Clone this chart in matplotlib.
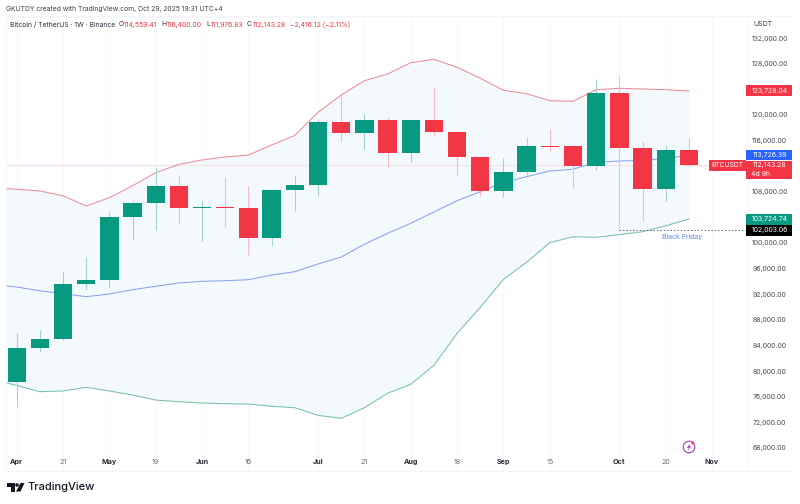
import matplotlib
matplotlib.use("Agg")
import matplotlib.pyplot as plt
from matplotlib.lines import Line2D
from matplotlib.patches import Rectangle, Circle, Polygon

plt.rcParams['font.family'] = ['Inter', 'DejaVu Sans']

opens  = [78350, 83560, 85010, 93600, 94180, 104010, 106290, 108900, 105500, 105620,
          105510, 100830, 108270, 109050, 118930, 117170, 119250, 114100, 119150, 117280,
          113380, 108120, 111040, 115140, 115090, 112020, 123370, 114830, 108480, 114559]
highs  = [86000, 86420, 95630, 97810, 104840, 106510, 111860, 110610, 106660, 110350,
          108900, 108380, 110460, 119360, 122990, 120140, 119720, 119300, 124350, 117440,
          113530, 113220, 116590, 117800, 115190, 125600, 126070, 115920, 115340, 116400]
lows   = [74450, 83030, 84900, 92660, 93180, 100620, 101980, 103010, 100310, 102540,
          98130, 99530, 105040, 107380, 115720, 114670, 111860, 112600, 116750, 110610,
          107380, 107230, 110610, 114250, 108540, 111400, 102003, 103430, 106560, 111977]
closes = [83560, 85010, 93650, 94180, 104010, 106290, 108900, 105510, 105620, 105480,
          100830, 108270, 109050, 118930, 117170, 119250, 114100, 119150, 117280, 113380,
          108120, 111040, 115140, 115000, 112020, 123370, 114830, 108480, 114470, 112143]

band_x = list(range(-1, 30))
upper  = [108660, 108380, 108120, 107380, 105780, 107070, 108940, 110970, 112280, 112960,
          113420, 113740, 115300, 116810, 120400, 123100, 125330, 126380, 128140, 128680,
          127430, 125710, 123840, 123300, 122210, 122120, 123930, 124150, 124040, 123930, 123728]
middle = [93490, 93130, 92550, 92085, 91620, 92040, 92710, 93240, 93760, 94020,
          94115, 94270, 95000, 95520, 96720, 97810, 99800, 101510, 103075, 104840,
          106600, 108010, 109410, 110350, 111240, 111520, 112600, 112800, 112910, 113190, 113726]
lower  = [78690, 77755, 76790, 76900, 77470, 76900, 76270, 75490, 75230, 75020,
          74910, 74870, 74510, 74290, 73100, 72635, 74290, 76540, 77940, 80910,
          85900, 89960, 94330, 96990, 100050, 100980, 100890, 101300, 101760, 102700, 103725]

price_ticks = [132000, 128000, 120000, 116000, 108000, 100000, 96000, 92000, 88000, 84000,
               80000, 76000, 72000, 68000]
grid_prices = [124000, 112000, 104000]
x_ticks  = [0, 2, 4, 6, 8, 10, 13, 15, 17, 19, 21, 23, 26, 28, 30]
x_labels = ['Apr', '21', 'May', '19', 'Jun', '16', 'Jul', '21', 'Aug', '18', 'Sep', '15', 'Oct', '20', 'Nov']
bold_labels = ['Apr', 'May', 'Jun', 'Jul', 'Aug', 'Sep', 'Oct', 'Nov']

GREEN, RED = '#089981', '#f23645'
GREEN_W, RED_W = '#a3d4c9', '#f7bcc3'
TXT = '#4a4d57'
W, H = 800, 504
L, R, T, B = 6, 748, 17, 470.5
FS = 5.0

fig = plt.figure(figsize=(8, 5.04), dpi=100, facecolor='white')
ax = fig.add_axes([L / W, 1 - B / H, (R - L) / W, (B - T) / H])
ax.set_xlim(-0.46, 31.55)
ax.set_ylim(132000 - (B - 38) * 156.1, 132000 + (38 - T) * 156.1)
for s in ax.spines.values():
    s.set_color('#f6f7f9')
    s.set_linewidth(0.6)
for yy in (T - 1.5, B):
    fig.add_artist(Line2D([L / W, 795 / W], [1 - yy / H, 1 - yy / H], color='#f3f4f6', lw=0.6))

# grid
for p in price_ticks + grid_prices:
    ax.axhline(p, color='#f9fafc', lw=0.7, zorder=0)
for x in x_ticks:
    ax.axvline(x, color='#f7f8fa', lw=0.7, zorder=0)

# Bollinger bands
ax.fill_between(band_x, lower, upper, color='#f4f9fe', lw=0, zorder=1)
ax.axhline(closes[-1], color='#f5e2e3', lw=0.9, zorder=1.5)
ax.plot(band_x, upper, color='#e88d98', lw=0.75, zorder=2)
ax.plot(band_x, middle, color='#8aa2e8', lw=0.75, zorder=2)
ax.plot(band_x, lower, color='#79c1ae', lw=0.75, zorder=2)

# candles
for i, (o, h, l, c) in enumerate(zip(opens, highs, lows, closes)):
    up = c >= o
    ax.vlines(i, l, h, color=GREEN_W if up else RED_W, lw=0.8, zorder=3)
    ax.bar(i, abs(c - o), bottom=min(o, c), width=0.79,
           color=GREEN if up else RED, lw=0, zorder=4)

# Black Friday low marker
ax.plot([26, 31.55], [lows[26], lows[26]], color='#666a73', lw=0.7,
        dashes=(1.5, 2), zorder=3)
ax.text(28.72, 101350, 'Black Friday', color='#5f87e3', fontsize=FS,
        ha='center', va='top', zorder=5)

# axes ticks
ax.set_xticks(x_ticks)
ax.set_xticklabels(x_labels)
for t in ax.get_xticklabels():
    b = t.get_text() in bold_labels
    t.set_fontweight('bold' if b else 'normal')
    t.set_color('#2a2e39' if b else '#6a6d78')
    t.set_fontsize(5.2)
ax.tick_params(axis='x', length=0, pad=-8.5)
ax.yaxis.tick_right()
ax.set_yticks(price_ticks)
ax.set_yticklabels([f'{p:,.2f}' for p in price_ticks], fontsize=FS, color=TXT)
ax.tick_params(axis='y', length=0, pad=3)

# price labels on the scale
ytr = ax.get_yaxis_transform()
def tag(val, label, color, tc='white', h_px=11):
    dy = h_px * 156.1 / 2
    ax.add_patch(Rectangle((1.0 - 2 / (R - L), val - dy), 46 / (R - L), 2 * dy, transform=ytr,
                           color=color, lw=0, clip_on=False, zorder=6))
    ax.text(1.0 + 22 / (R - L), val, label, transform=ytr, color=tc, fontsize=FS,
            ha='center', va='center', clip_on=False, zorder=7)

tag(123728.04, '123,728.04', RED)
tag(113726.39, '113,726.39', '#2962ff', h_px=10.5)
tag(103724.74, '103,724.74', GREEN)
tag(102003.06, '102,003.06', '#000000')

ptop, pbot = closes[-1] + 4.3 * 156.1, closes[-1] - 13.5 * 156.1
ax.add_patch(Rectangle((1.0 - 2 / (R - L), pbot), 46 / (R - L), ptop - pbot, transform=ytr,
                       color=RED, lw=0, clip_on=False, zorder=6))
ax.text(1 + 22 / (R - L), closes[-1], '112,143.28', transform=ytr, color='white', fontsize=FS,
        ha='center', va='center', clip_on=False, zorder=7)
ax.text(1 + 3 / (R - L), closes[-1] - 8.7 * 156.1, '4d 9h', transform=ytr, color='white', fontsize=FS,
        ha='left', va='center', clip_on=False, zorder=7)
ax.add_patch(Rectangle((1 - 39 / (R - L), closes[-1] - 5.5 * 156.1), 37 / (R - L), 11 * 156.1,
                       transform=ytr, color=RED, lw=0, clip_on=False, zorder=6))
ax.text(1 - 20.5 / (R - L), closes[-1], 'BTCUSDT', transform=ytr, color='white', fontsize=4.8,
        ha='center', va='center', clip_on=False, zorder=7)

# header / legend / watermark text
def ft(x, y, s, **kw):
    kw.setdefault('fontsize', 4.85)
    kw.setdefault('va', 'center')
    fig.text(x / W, 1 - y / H, s, **kw)

ft(5.5, 9, 'GKUTDY created with TradingView.com, Oct 29, 2025 19:31 UTC+4', color='#3b3f4a')
ft(10, 24.5, 'Bitcoin / TetherUS · 1W · Binance', color='#2a2e39')
for x, s, c in [(119, 'O', '#2a2e39'), (124, '114,559.41', RED), (161.5, 'H', '#2a2e39'),
                (166.5, '116,400.00', RED), (206, 'L', '#2a2e39'), (211, '111,976.83', RED),
                (247, 'C', '#2a2e39'), (252.5, '112,143.28', RED), (290, '−2,416.12 (−2.11%)', RED)]:
    ft(x, 24.5, s, color=c)
ft(753, 24.5, 'USDT', color='#3b3f4a', fontsize=5.0)

# overlay in pixel coordinates: logo and badge
dark = '#131722'
ov = fig.add_axes([0, 0, 1, 1], facecolor='none', zorder=10)
ov.set_xlim(0, W); ov.set_ylim(H, 0); ov.axis('off')
ov.add_patch(Polygon([(7, 483), (14.5, 483), (14.5, 491.5), (10.5, 491.5), (10.5, 486.5), (7, 486.5)],
                     color=dark, lw=0))
ov.add_patch(Circle((17, 485), 1.8, color=dark, lw=0))
ov.add_patch(Polygon([(20.5, 483), (24.5, 483), (20.5, 491.5), (16, 491.5)], color=dark, lw=0))
ov.text(28, 487.5, 'TradingView', color=dark, fontsize=8.0, fontweight='medium', va='center')

cx, cy, rad = 689, 447, 5.8
ov.add_patch(Circle((cx, cy), rad, fill=False, ec='#a03cc0', lw=0.8))
ov.add_patch(Polygon([(690, 443.5), (686.8, 447.8), (688.8, 447.8), (688, 450.5),
                      (691.2, 446.2), (689.2, 446.2)], color='#a03cc0', lw=0))
ov.add_patch(Circle((692.8, 443), 1.4, color=RED, lw=0))

fig.savefig('out.png', dpi=100, facecolor='white')
